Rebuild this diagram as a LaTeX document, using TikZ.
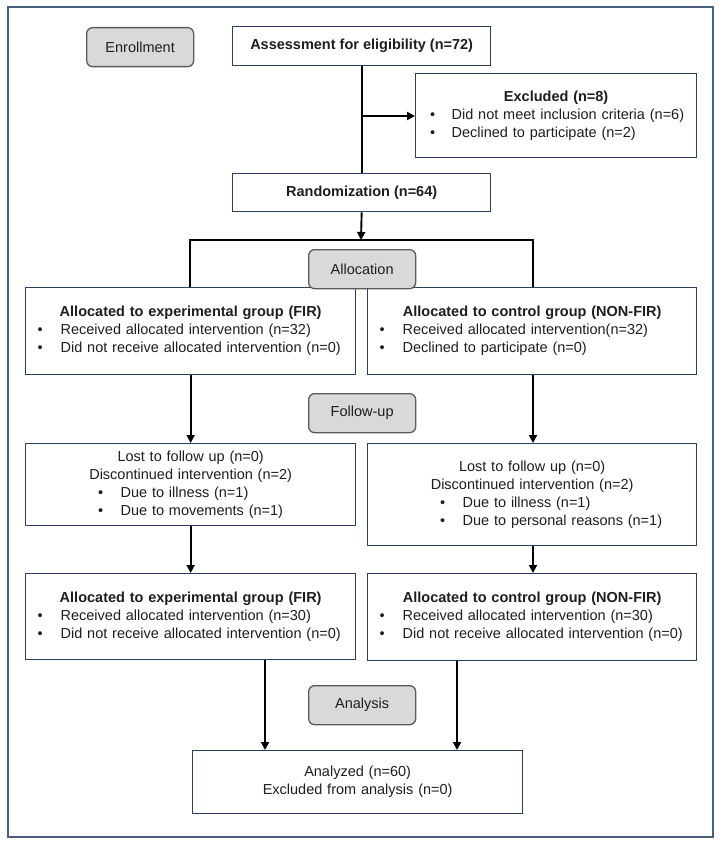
\documentclass[tikz,border=0pt]{standalone}
\usepackage{fontspec}
\setmainfont{Liberation Sans}
\usetikzlibrary{arrows.meta}
\definecolor{boxblue}{HTML}{2B3F61}
\definecolor{framec}{HTML}{4B5F82}
\definecolor{grayfill}{HTML}{D9D9D9}
\definecolor{grayline}{HTML}{5A5A5A}
\definecolor{txt}{HTML}{1E1E1E}
\newcommand{\blt}[3]{\hspace*{#1pt}\makebox[#2pt][l]{•}#3}
\newcommand{\ctr}[1]{\makebox[\linewidth]{#1}}
\begin{document}
\begin{tikzpicture}[x=1pt,y=-1pt,
  every node/.style={font=\fontsize{14.5}{18}\selectfont, text=txt},
  box/.style={draw=boxblue, line width=1.3pt, fill=white, inner sep=0pt, anchor=north west, align=left},
  stage/.style={draw=grayline, fill=grayfill, line width=1.3pt, rounded corners=6pt, inner sep=0pt,
    anchor=north west, minimum width=107pt, minimum height=39pt},
  conn/.style={line width=1.9pt, black},
  arr/.style={conn, -{Triangle[length=8pt,width=8pt]}}
]
\useasboundingbox (0,0) rectangle (721,845);
\draw[framec, line width=1.5pt] (8,7) rectangle (713,837);

\node[stage] (enr) at (86,27) {Enrollment};
\node[box, minimum width=258pt, minimum height=39pt, align=center] (assess) at (232,26) {\bfseries Assessment for eligibility (n=72)};
\node[box, text width=281pt, minimum height=84pt] (excl) at (415,73)
  {\ctr{\bfseries Excluded (n=8)}\\
   \blt{14.4}{21.6}{Did not meet inclusion criteria (n=6)}\\
   \blt{14.4}{21.6}{Declined to participate (n=2)}};
\node[box, minimum width=258pt, minimum height=38pt, align=center] (rand) at (232,173) {\bfseries Randomization (n=64)};

\node[box, text width=330pt, minimum height=87pt] (a1) at (25,287)
  {\ctr{\bfseries Allocated to experimental group (FIR)}\\
   \blt{12}{23}{Received allocated intervention (n=32)}\\
   \blt{12}{23}{Did not receive allocated intervention (n=0)}};
\node[box, text width=329pt, minimum height=87pt] (b1) at (367,287)
  {\ctr{\bfseries Allocated to control group (NON-FIR)}\\
   \blt{12}{23}{Received allocated intervention(n=32)}\\
   \blt{12}{23}{Declined to participate (n=0)}};
\node[stage] (alloc) at (308,249) {Allocation};

\node[stage] (fu) at (308,393) {Follow-up};
\node[box, text width=330pt, minimum height=82pt] (a2) at (25,443)
  {\ctr{Lost to follow up (n=0)}\\
   \ctr{Discontinued intervention (n=2)}\\
   \blt{72.4}{22.6}{Due to illness (n=1)}\\
   \blt{72.4}{22.6}{Due to movements (n=1)}};
\node[box, text width=329pt, minimum height=102pt] (b2) at (367,443)
  {\ctr{Lost to follow up (n=0)}\\
   \ctr{Discontinued intervention (n=2)}\\
   \blt{72.4}{22.6}{Due to illness (n=1)}\\
   \blt{72.4}{22.6}{Due to personal reasons (n=1)}};

\node[box, text width=330pt, minimum height=86pt] (a3) at (25,573)
  {\ctr{\bfseries Allocated to experimental group (FIR)}\\
   \blt{12}{23}{Received allocated intervention (n=30)}\\
   \blt{12}{23}{Did not receive allocated intervention (n=0)}};
\node[box, text width=329pt, minimum height=87pt] (b3) at (367,573)
  {\ctr{\bfseries Allocated to control group (NON-FIR)}\\
   \blt{12}{23}{Received allocated intervention (n=30)}\\
   \blt{12}{23}{Did not receive allocated intervention (n=0)}};

\node[stage] (ana) at (308,685) {Analysis};
\node[box, text width=330pt, minimum height=63pt, align=center] (fin) at (192,750)
  {Analyzed (n=60)\\Excluded from analysis (n=0)};

% connectors
\coordinate (j1) at (361,116);
\coordinate (bar) at (361,240);
\coordinate (barL) at (190,240);
\coordinate (barR) at (533,240);
\coordinate (cl) at (265,0);
\coordinate (cr) at (457,0);
\draw[conn] (assess.south) -- (rand.north);
\draw[arr] (j1) -- (j1 -| excl.west);
\draw[arr] (rand.south) -- (bar);
\draw[conn] (a1.north -| barL) -- (barL) -- (barR) -- (b1.north -| barR);
\draw[arr] (a1.south) -- (a2.north);
\draw[arr] (b1.south -| barR) -- (b2.north -| barR);
\draw[arr] (a2.south) -- (a3.north);
\draw[arr] (b2.south -| barR) -- (b3.north -| barR);
\draw[arr] (a3.south -| cl) -- (fin.north -| cl);
\draw[arr] (b3.south -| cr) -- (fin.north -| cr);
\end{tikzpicture}
\end{document}
